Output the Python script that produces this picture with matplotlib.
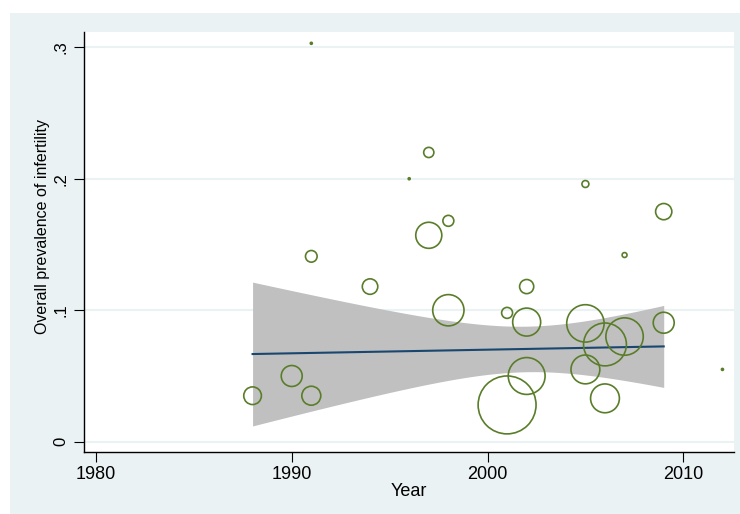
import numpy as np
import matplotlib
matplotlib.use("Agg")
import matplotlib.pyplot as plt
from matplotlib.patches import Rectangle

plt.rcParams['font.family'] = ['Liberation Sans', 'DejaVu Sans']

# study year, prevalence, and study weight (bubble area)
year = [1988, 1990, 1991, 1991, 1991, 1994, 1996, 1997, 1997, 1998, 1998,
        2001, 2001, 2002, 2002, 2002, 2005, 2005, 2005, 2006, 2006, 2007,
        2007, 2009, 2009, 2012]
prev = [0.035, 0.050, 0.035, 0.141, 0.303, 0.118, 0.200, 0.220, 0.157, 0.168, 0.100,
        0.098, 0.028, 0.118, 0.091, 0.050, 0.196, 0.090, 0.055, 0.074, 0.033, 0.142,
        0.080, 0.175, 0.0905, 0.055]
weight = [78, 110, 90, 34, 1, 60, 1, 26, 170, 30, 245,
          30, 840, 50, 196, 340, 12, 350, 208, 460, 208, 6,
          350, 66, 110, 1]

# fitted line and its confidence band
fit_x = [1988, 2009]
fit_y = [0.0667, 0.0725]
ci_center = 2002.0
ci_a = 0.0003
ci_b = 1.373e-5

bg = '#eaf2f3'
fig = plt.figure(figsize=(7.4, 5.14), dpi=100)
fig.patches.append(Rectangle((10 / 740, 0), 730 / 740, 501 / 514,
                             transform=fig.transFigure, facecolor=bg,
                             edgecolor='none', zorder=-10))
ax = fig.add_axes([84 / 740, 62 / 514, 650 / 740, 420 / 514])
ax.set_facecolor('white')

xs = np.linspace(fit_x[0], fit_x[1], 200)
slope = (fit_y[1] - fit_y[0]) / (fit_x[1] - fit_x[0])
ys = fit_y[0] + slope * (xs - fit_x[0])
half = np.sqrt(ci_a + ci_b * (xs - ci_center) ** 2)
ax.fill_between(xs, ys - half, ys + half, color='#c0c0c0', linewidth=0, zorder=2)
ax.plot(xs, ys, color='#1a476f', linewidth=1.5, zorder=3)

ax.scatter(year, prev, s=np.array(weight) * 2.07, facecolors='none',
           edgecolors='#5a7d2a', linewidths=1.2, zorder=4)

ax.set_xlim(1979.39, 2012.59)
ax.set_ylim(-0.0078, 0.3116)
ax.set_xticks([1980, 1990, 2000, 2010])
ax.set_yticks([0, 0.1, 0.2, 0.3])
ax.set_yticklabels(['0', '.1', '.2', '.3'], rotation=90, va='center')
ax.grid(axis='y', color=bg, linewidth=1.5, zorder=1)
ax.set_axisbelow(True)
ax.tick_params(direction='out', length=7, width=0.8)
ax.tick_params(axis='x', labelsize=13, pad=3)
ax.tick_params(axis='y', labelsize=12, pad=4)

for s in ['top', 'right']:
    ax.spines[s].set_visible(False)
for s in ['left', 'bottom']:
    ax.spines[s].set_linewidth(1.0)

ax.set_xlabel('Year', fontsize=13, labelpad=0)
fig.text(43 / 740, 1 - 226 / 514, 'Overall prevalence of infertility',
         fontsize=11.5, rotation=90, ha='center', va='center')

fig.savefig('out.png', dpi=100)
